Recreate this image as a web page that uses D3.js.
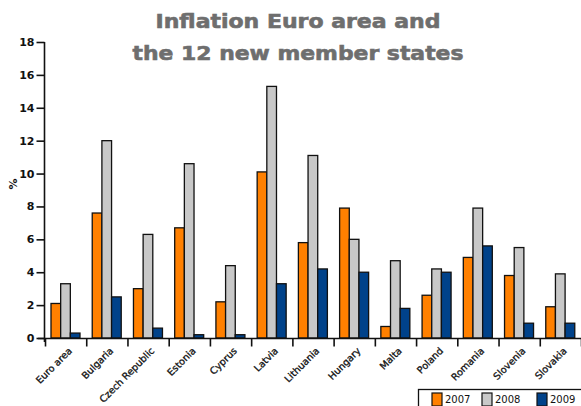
<!DOCTYPE html>
<html><head><meta charset="utf-8">
<script src="https://cdn.jsdelivr.net/npm/d3@7"></script>
<style>html,body{margin:0;padding:0;background:#fff;}svg{display:block;}</style>
</head><body>
<script>
const categories = ["Euro area","Bulgaria","Czech Republic","Estonia","Cyprus","Latvia","Lithuania","Hungary","Malta","Poland","Romania","Slovenia","Slovakia"];
const seriesNames = ["2007","2008","2009"];
const v2007 = [2.1, 7.6, 3.0, 6.7, 2.2, 10.1, 5.8, 7.9, 0.7, 2.6, 4.9, 3.8, 1.9];
const v2008 = [3.3, 12.0, 6.3, 10.6, 4.4, 15.3, 11.1, 6.0, 4.7, 4.2, 7.9, 5.5, 3.9];
const v2009 = [0.3, 2.5, 0.6, 0.2, 0.2, 3.3, 4.2, 4.0, 1.8, 4.0, 5.6, 0.9, 0.9];
const yTicks = [0,2,4,6,8,10,12,14,16,18];
const titleLines = ["Inflation Euro area and","the 12 new member states"];
const colors = ["#FF8000","#C8C8C8","#00428A"];

const W = 581, H = 406;
const svg = d3.select("body").append("svg").attr("width", W).attr("height", H);

const y = d3.scaleLinear().domain([0,18]).range([338,42]);
const x0 = d3.scaleBand().domain(categories).range([45, 581]);
const x1 = d3.scaleBand().domain(seriesNames).range([6, 35]);
const seriesVals = [v2007, v2008, v2009];

// title
svg.selectAll("text.title").data(titleLines).enter().append("text")
  .attr("class","title")
  .attr("x", 298).attr("y", (d,i)=> 28 + i*32)
  .attr("text-anchor","middle")
  .attr("font-family","DejaVu Sans, sans-serif").attr("font-weight","bold")
  .attr("font-size", 19).attr("fill","#6E6E6E")
  .attr("stroke","#6E6E6E").attr("stroke-width",0.6)
  .attr("textLength", (d,i)=> i===0 ? 285 : 331).attr("lengthAdjust","spacingAndGlyphs")
  .text(d=>d);

// bars
const g = svg.append("g");
categories.forEach((c, ci) => {
  seriesNames.forEach((s, si) => {
    const v = seriesVals[si][ci];
    g.append("rect")
      .attr("x", x0(c) + x1(s))
      .attr("y", y(v))
      .attr("width", x1.bandwidth())
      .attr("height", y(0) - y(v))
      .attr("fill", colors[si])
      .attr("stroke", "#111").attr("stroke-width", 1.3);
  });
});

// y axis
const yAxis = d3.axisLeft(y).tickValues(yTicks).tickSize(8).tickPadding(2).tickFormat(d3.format("d"));
const ya = svg.append("g").attr("transform","translate(44.5,0)").call(yAxis);
ya.select(".domain").attr("stroke","#111").attr("stroke-width",1.6).attr("d","M0,42V342");
ya.selectAll(".tick line").attr("stroke","#111").attr("stroke-width",1.6);
ya.selectAll(".tick text").attr("font-family","DejaVu Sans, sans-serif").attr("font-size",11).attr("font-weight","bold").attr("fill","#111");

// y label
svg.append("text").attr("transform","translate(17,184) rotate(-90)")
  .attr("text-anchor","middle").attr("font-family","DejaVu Sans, sans-serif")
  .attr("font-size",11).attr("font-weight","bold").attr("fill","#111").text("%");

// x axis
const xa = svg.append("g").attr("transform","translate(0,338.5)");
xa.append("line").attr("x1",38).attr("x2",581).attr("stroke","#111").attr("stroke-width",1.6);
const boundaries = categories.map(c => x0(c)).concat([x0.range()[1]]);
xa.selectAll("line.tk").data(boundaries).enter().append("line").attr("class","tk")
  .attr("x1", d=>d+0.5).attr("x2", d=>d+0.5).attr("y1",0).attr("y2",8)
  .attr("stroke","#111").attr("stroke-width",1.6);
xa.selectAll("text.xl").data(categories).enter().append("text").attr("class","xl")
  .attr("transform", c => `translate(${x0(c)+x0.bandwidth()/2+7},13) rotate(-45)`)
  .attr("text-anchor","end")
  .attr("font-family","DejaVu Sans, sans-serif").attr("font-size",9.6).attr("fill","#111")
  .attr("stroke","#111").attr("stroke-width",0.3)
  .text(d=>d);

// legend
const lg = svg.append("g");
lg.append("rect").attr("x",418.5).attr("y",389.5).attr("width",170).attr("height",30)
  .attr("fill","#fff").attr("stroke","#111").attr("stroke-width",1.3);
const lx = [432, 482, 537];
seriesNames.forEach((s, i) => {
  lg.append("rect").attr("x", lx[i]).attr("y", 393).attr("width", 10).attr("height", 13)
    .attr("fill", colors[i]).attr("stroke","#111").attr("stroke-width",1.2);
  lg.append("text").attr("x", lx[i]+13).attr("y", 403)
    .attr("font-family","DejaVu Sans, sans-serif").attr("font-size",10).attr("fill","#111")
    .text(s);
});
</script>
</body></html>
